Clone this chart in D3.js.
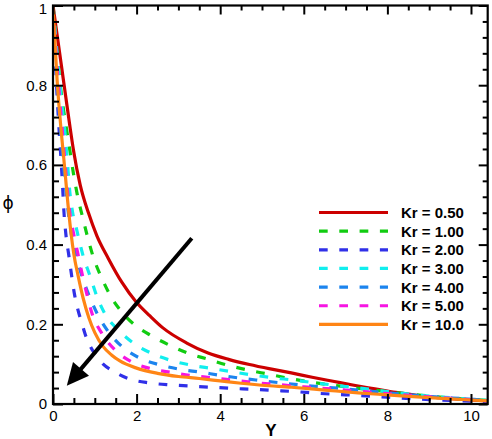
<!DOCTYPE html>
<html>
<head>
<meta charset="utf-8">
<script src="https://d3js.org/d3.v7.min.js"></script>
<style>
  html, body { margin: 0; padding: 0; background: #fff; overflow: hidden; }
  svg { display: block; }
  text { font-family: 'Liberation Sans', Arial, sans-serif; }
</style>
</head>
<body>
<svg id="chart"></svg>
<script>
//concentration profiles, one array per Kr
let kr050 = [[0,1],[0.1,0.925],[0.2,0.85],[0.3,0.775],[0.4,0.7],[0.49,0.637],[0.65,0.55],[0.85,0.479],[1.05,0.422],[1.32,0.366],[1.65,0.305],[1.99,0.256],[2.32,0.221],[2.63,0.191],[3.2,0.153],[3.71,0.128],[4.2,0.112],[4.7,0.099],[5.2,0.088],[5.7,0.078],[6.2,0.067],[6.7,0.057],[7.2,0.047],[7.7,0.038],[8.2,0.029],[8.7,0.022],[9.2,0.016],[9.7,0.012],[10.4,0.008]]
let kr100 = [[0,1],[0.05,0.94],[0.1,0.88],[0.17,0.805],[0.25,0.74],[0.34,0.679],[0.41,0.632],[0.49,0.578],[0.58,0.526],[0.7,0.472],[0.82,0.422],[0.96,0.37],[1.17,0.315],[1.39,0.269],[1.67,0.228],[1.96,0.198],[2.36,0.171],[2.8,0.147],[3.24,0.127],[3.72,0.112],[4.16,0.098],[4.67,0.085],[5.15,0.075],[5.67,0.064],[6.1,0.056],[6.63,0.048],[7.1,0.042],[7.58,0.036],[8.0,0.031],[8.5,0.025],[9.0,0.02],[9.5,0.015],[10.0,0.011],[10.4,0.009]]
let kr200 = [[0,1],[0.05,0.88],[0.1,0.77],[0.15,0.68],[0.2,0.6],[0.23,0.545],[0.26,0.485],[0.31,0.424],[0.38,0.372],[0.45,0.319],[0.52,0.272],[0.6,0.235],[0.69,0.203],[0.77,0.175],[0.9,0.143],[1.05,0.119],[1.2,0.1],[1.4,0.085],[1.8,0.064],[2.3,0.053],[2.8,0.048],[3.3,0.045],[3.8,0.042],[4.3,0.039],[4.8,0.037],[5.3,0.034],[5.8,0.031],[6.3,0.027],[6.8,0.024],[7.2,0.022],[8.0,0.017],[9.0,0.011],[10.0,0.007],[10.4,0.005]]
let kr300 = [[0,1],[0.05,0.935],[0.1,0.875],[0.2,0.765],[0.3,0.665],[0.35,0.6],[0.4,0.535],[0.47,0.48],[0.55,0.445],[0.6,0.422],[0.72,0.372],[0.89,0.32],[1.05,0.27],[1.25,0.225],[1.56,0.186],[1.92,0.153],[2.36,0.127],[2.8,0.11],[3.28,0.098],[3.8,0.089],[4.27,0.081],[4.75,0.073],[5.25,0.066],[5.75,0.06],[6.5,0.05],[7.0,0.044],[7.5,0.038],[8.0,0.031],[9.0,0.02],[10.0,0.012],[10.4,0.009]]
let kr400 = [[0,1],[0.05,0.9],[0.1,0.81],[0.15,0.73],[0.2,0.66],[0.25,0.6],[0.3,0.545],[0.35,0.495],[0.44,0.425],[0.57,0.365],[0.68,0.325],[0.8,0.289],[0.9,0.263],[1.06,0.226],[1.32,0.182],[1.64,0.145],[2.08,0.115],[2.56,0.098],[3.04,0.087],[3.52,0.08],[4.0,0.072],[4.47,0.065],[4.95,0.059],[5.45,0.053],[6.0,0.047],[7.0,0.038],[8.0,0.028],[9.0,0.019],[10.0,0.012],[10.4,0.009]]
let kr500 = [[0,1],[0.05,0.92],[0.1,0.845],[0.2,0.715],[0.3,0.59],[0.4,0.482],[0.5,0.424],[0.6,0.375],[0.7,0.325],[0.8,0.28],[0.94,0.225],[1.17,0.177],[1.48,0.136],[1.88,0.106],[2.36,0.088],[2.84,0.079],[3.32,0.071],[3.8,0.066],[4.3,0.06],[4.8,0.054],[5.35,0.049],[6.0,0.043],[7.0,0.035],[8.0,0.026],[9.0,0.018],[10.0,0.011],[10.4,0.008]]
let kr1000 = [[0,1],[0.05,0.9],[0.1,0.81],[0.15,0.74],[0.2,0.68],[0.25,0.625],[0.3,0.568],[0.35,0.51],[0.43,0.43],[0.5,0.375],[0.6,0.322],[0.72,0.266],[0.86,0.216],[1.0,0.179],[1.2,0.144],[1.4,0.123],[1.6,0.108],[2.0,0.09],[2.5,0.077],[3.0,0.069],[3.5,0.064],[4.0,0.058],[4.5,0.052],[5.0,0.047],[5.7,0.042],[6.5,0.035],[7.3,0.028],[8.0,0.023],[9.0,0.016],[10.0,0.01],[10.4,0.008]]

let seriesData = [kr050, kr100, kr200, kr300, kr400, kr500, kr1000]
let seriesLabels = ['Kr = 0.50', 'Kr = 1.00', 'Kr = 2.00', 'Kr = 3.00', 'Kr = 4.00', 'Kr = 5.00', 'Kr = 10.0']
let seriesColors = ['#cc0000', '#11cc11', '#3030e8', '#11eeee', '#1c84ee', '#f615e2', '#ff8515']
let seriesDashed = [false, true, true, true, true, true, false]

//tick values
let xMajor = [0, 2, 4, 6, 8, 10]
let xMinor = d3.range(0.5, 10.4, 0.5).filter(d => d % 2 != 0)
let yMajor = [0, 0.2, 0.4, 0.6, 0.8, 1]
let yMinor = d3.range(0.04, 1, 0.04).filter(d => Math.abs(d * 5 - Math.round(d * 5)) > 0.01)

//arrow annotation in data units: [start, tip]
let arrowPts = [[3.32, 0.416], [0.33, 0.046]]

let outerWidth = 492
let outerHeight = 439
let margins = { top: 5.5, bottom: 35, left: 53, right: 4.3 }
let innerWidth = outerWidth - margins.left - margins.right
let innerHeight = outerHeight - margins.top - margins.bottom

let svg = d3.select('svg#chart')
  .attr('width', outerWidth)
  .attr('height', outerHeight)

let inner = svg.append('g')
  .attr('transform', 'translate(' + margins.left + ',' + margins.top + ')')

let xScale = d3.scaleLinear().domain([0, 10.4]).range([0, innerWidth])
let yScale = d3.scaleLinear().domain([0, 1]).range([innerHeight, 0])

//clip the curves to the frame
inner.append('clipPath').attr('id', 'clip')
  .append('rect').attr('width', innerWidth).attr('height', innerHeight)

let line = d3.line()
  .x(d => xScale(d[0]))
  .y(d => yScale(d[1]))
  .curve(d3.curveMonotoneX)

let curves = inner.append('g').attr('clip-path', 'url(#clip)')
seriesData.forEach((s, i) => {
  curves.append('path')
    .attr('d', line(s))
    .attr('fill', 'none')
    .attr('stroke', seriesColors[i])
    .attr('stroke-width', 3.2)
    .attr('stroke-dasharray', seriesDashed[i] ? '8.7,11.6' : null)
})

//axes with inward ticks, mirrored on top and right
function styleAxis(g) {
  g.select('.domain').remove()
  g.selectAll('.tick line').attr('stroke', '#000').attr('stroke-width', 2)
  g.selectAll('.tick text')
    .attr('fill', '#000')
    .style('font-family', "'Liberation Sans', Arial, sans-serif")
    .style('font-size', '15px')
}

//unlabelled axes: drop the empty text nodes
function bareAxis(g) {
  styleAxis(g)
  g.selectAll('.tick text').remove()
}

let fmt = d3.format('~g')

inner.append('g').attr('transform', 'translate(0,' + innerHeight + ')')
  .call(d3.axisBottom(xScale).tickValues(xMajor).tickSize(-10).tickPadding(6).tickFormat(fmt))
  .call(styleAxis)
inner.append('g').attr('transform', 'translate(0,' + innerHeight + ')')
  .call(d3.axisBottom(xScale).tickValues(xMinor).tickSize(-6))
  .call(bareAxis)
inner.append('g')
  .call(d3.axisTop(xScale).tickValues(xMajor).tickSize(-9))
  .call(bareAxis)
inner.append('g')
  .call(d3.axisTop(xScale).tickValues(xMinor).tickSize(-5))
  .call(bareAxis)

let yAxisG = inner.append('g')
  .call(d3.axisLeft(yScale).tickValues(yMajor).tickSize(-10).tickPadding(6).tickFormat(fmt))
  .call(styleAxis)
//the top label sits a little low in the original
yAxisG.selectAll('.tick').filter(d => d == 1).select('text').attr('dy', '0.55em')

inner.append('g')
  .call(d3.axisLeft(yScale).tickValues(yMinor).tickSize(-6))
  .call(bareAxis)
inner.append('g').attr('transform', 'translate(' + innerWidth + ',0)')
  .call(d3.axisRight(yScale).tickValues(yMajor).tickSize(-9))
  .call(bareAxis)
inner.append('g').attr('transform', 'translate(' + innerWidth + ',0)')
  .call(d3.axisRight(yScale).tickValues(yMinor).tickSize(-5))
  .call(bareAxis)

//frame
inner.append('rect')
  .attr('width', innerWidth)
  .attr('height', innerHeight)
  .attr('fill', 'none')
  .attr('stroke', '#000')
  .attr('stroke-width', 2.2)

//axis titles
svg.append('text')
  .attr('x', 271)
  .attr('y', 436)
  .attr('text-anchor', 'middle')
  .style('font-size', '17px')
  .style('font-weight', 'bold')
  .text('Y')

svg.append('text')
  .attr('x', 8)
  .attr('y', 209)
  .attr('text-anchor', 'middle')
  .style('font-family', "'DejaVu Sans', sans-serif")
  .style('font-size', '17px')
  .text('ϕ')

//arrow
let ax0 = xScale(arrowPts[0][0]), ay0 = yScale(arrowPts[0][1])
let ax1 = xScale(arrowPts[1][0]), ay1 = yScale(arrowPts[1][1])
let ang = Math.atan2(ay1 - ay0, ax1 - ax0)
let headLen = 22, headHalf = 10.5
let bx = ax1 - headLen * Math.cos(ang), by = ay1 - headLen * Math.sin(ang)
inner.append('line')
  .attr('x1', ax0).attr('y1', ay0)
  .attr('x2', bx + 2 * Math.cos(ang)).attr('y2', by + 2 * Math.sin(ang))
  .attr('stroke', '#000')
  .attr('stroke-width', 4)
inner.append('path')
  .attr('d', 'M' + ax1 + ',' + ay1 +
    'L' + (bx + headHalf * Math.sin(ang)) + ',' + (by - headHalf * Math.cos(ang)) +
    'L' + (bx - headHalf * Math.sin(ang)) + ',' + (by + headHalf * Math.cos(ang)) + 'Z')
  .attr('fill', '#000')

//legend
let legend = svg.append('g').attr('transform', 'translate(319,212.5)')
seriesLabels.forEach((lab, i) => {
  let row = legend.append('g').attr('transform', 'translate(0,' + (i * 18.65) + ')')
  row.append('line')
    .attr('x1', 0).attr('x2', 69)
    .attr('stroke', seriesColors[i])
    .attr('stroke-width', 3.2)
    .attr('stroke-dasharray', seriesDashed[i] ? '8.7,11.6' : null)
  row.append('text')
    .attr('x', 82)
    .attr('y', 5.5)
    .style('font-size', '15px')
    .style('font-weight', 'bold')
    .text(lab)
})
</script>
</body>
</html>
